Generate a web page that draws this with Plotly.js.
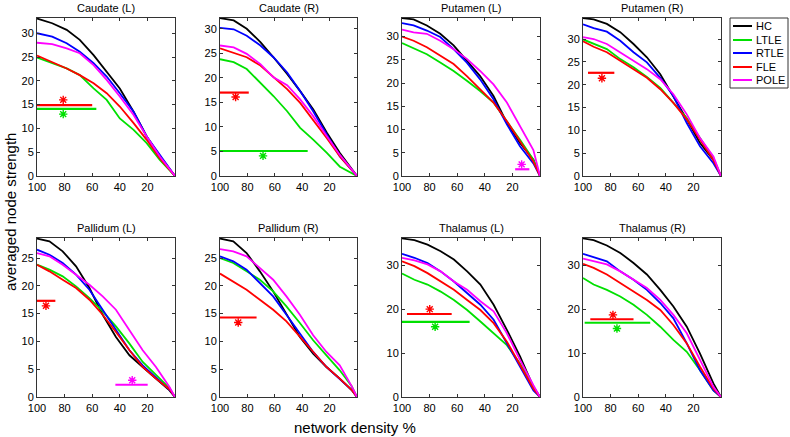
<!DOCTYPE html>
<html><head><meta charset="utf-8">
<script src="https://cdn.plot.ly/plotly-3.0.1.min.js"></script>
<style>html,body{margin:0;padding:0;background:#fff}#chart{width:790px;height:437px}</style>
</head><body><div id="chart"></div>
<script>
const panelTitles = ['Caudate (L)','Caudate (R)','Putamen (L)','Putamen (R)','Pallidum (L)','Pallidum (R)','Thalamus (L)','Thalamus (R)'];
const groups = ['HC','LTLE','RTLE','FLE','POLE'];
const groupColors = ['#000000','#00e000','#0000ff','#ff0000','#ff00ff'];
const yMax = [33.2,32.2,34.0,34.6,28.6,28.6,36.2,36.2];
const yStep = [5,5,5,5,5,5,10,10];
const xTicks = [100,80,60,40,20];

// network density (%) sample positions per panel
const densityX = [
  [100,89,78.5,69,59,49.5,40,30,20.5,11,0],
  [100,90,80.5,70.5,61,51,41.5,32,22,12.5,0],
  [100,91.6,82,72.3,62.6,53,43.4,33.7,24,14.5,4.8,0],
  [100,92.3,82.7,73,63.4,53.7,44,34.5,24.8,15.2,5.5,0],
  [100,91,81.4,71.7,62,52.4,42.8,33,23.4,13.8,4,0],
  [100,90.3,80.6,70.9,61.2,51.5,41.7,32,22.3,12.6,4,0],
  [100,91,81.5,72,62.4,52.8,43.2,33.6,24,14.4,4.8,0],
  [100,92.3,82.7,73,63.4,53.7,44,34.5,24.8,15.2,5.5,0]
];
const HC = [
  [33.1,32.1,30.7,28.6,25.4,21.9,18.4,13.5,8.3,4.1,0],
  [32.2,31.7,30.0,27.3,24.2,20.8,17.3,13.6,8.8,4.7,0],
  [34.0,33.7,32.4,30.6,28.1,24.8,21.5,17.2,11.4,7.1,3.5,0],
  [34.6,34.3,33.3,31.5,28.9,26.0,22.3,17.5,12.4,7.2,3.5,0],
  [28.5,28.0,26.2,23.5,19.6,14.8,10.8,7.5,5.4,3.3,1.2,0],
  [28.5,28.0,25.9,22.6,19.0,14.8,10.8,7.8,5.4,3.3,1.3,0],
  [36.1,35.7,34.7,33.2,31.3,28.6,25.6,21.0,15.3,9.2,2.3,0],
  [36.1,35.7,34.5,32.8,30.5,27.9,24.4,20.6,16.0,9.9,3.1,0]
];
const LTLE = [
  [24.9,23.7,22.6,21.2,18.4,16.0,12.1,9.7,6.9,3.4,0],
  [23.8,23.2,21.8,19.0,16.3,13.2,9.8,7.4,4.7,1.9,0],
  [28.6,27.5,26.2,24.4,22.6,20.5,18.3,15.8,11.8,7.8,3.5,0],
  [29.9,28.9,27.8,25.6,23.8,21.7,19.3,16.0,12.7,8.3,3.9,0],
  [23.8,22.9,21.7,19.9,17.8,15.4,12.7,9.6,6.3,3.9,1.6,0],
  [25.0,24.1,22.6,21.1,19.0,16.3,13.3,10.2,7.5,4.8,2.0,0],
  [28.1,26.7,25.6,24.0,22.1,19.8,17.2,14.5,11.8,7.6,2.3,0],
  [27.1,25.6,24.4,22.9,21.0,18.7,16.0,13.0,10.3,6.1,1.5,0]
];
const RTLE = [
  [30.0,29.3,27.9,26.1,23.7,20.9,17.4,13.5,8.3,4.5,0],
  [30.2,29.9,28.6,26.6,24.2,21.1,17.3,13.2,8.4,4.0,0],
  [32.9,32.4,31.3,29.9,27.3,24.4,20.8,16.5,11.1,6.4,2.7,0],
  [33.2,32.4,31.6,29.6,27.1,24.9,21.5,17.5,11.6,6.5,2.8,0],
  [26.5,25.6,24.1,22.0,19.3,15.7,12.0,8.4,5.7,3.6,1.3,0],
  [25.3,24.4,22.9,20.5,18.1,14.8,11.4,8.1,5.4,3.3,1.3,0],
  [32.6,31.7,30.5,28.6,26.3,23.7,21.0,17.6,12.2,6.9,1.5,0],
  [32.6,31.9,30.9,28.6,26.7,24.4,21.4,17.9,12.2,6.1,1.5,0]
];
const FLE = [
  [25.3,24.0,22.6,21.2,19.5,17.4,14.6,11.1,7.6,3.7,0],
  [26.0,25.1,24.2,22.5,20.1,17.7,14.9,11.5,7.7,4.0,0],
  [30.0,29.1,27.7,25.9,24.1,21.5,18.7,15.8,11.8,7.4,3.1,0],
  [29.5,28.3,27.1,25.2,23.4,21.5,19.0,16.0,12.4,7.9,3.5,0],
  [23.8,22.6,21.1,19.6,17.5,14.8,11.7,8.4,5.4,3.3,1.4,0],
  [22.2,20.8,19.3,17.5,15.7,13.6,10.8,8.1,5.4,3.3,1.3,0],
  [30.9,29.8,28.2,26.3,24.4,22.1,19.8,16.8,12.6,7.3,1.9,0],
  [30.3,29.4,27.9,26.0,24.0,22.1,19.8,16.4,12.2,6.9,1.9,0]
];
const POLE = [
  [28.0,27.7,26.8,25.8,23.3,20.2,16.7,12.8,8.3,4.1,0],
  [26.6,26.2,24.9,22.8,20.1,18.5,15.6,12.2,8.1,4.3,0],
  [31.5,30.9,30.6,29.1,27.3,25.2,22.6,19.7,15.8,10.7,5.6,0],
  [30.4,30.0,28.9,27.1,25.2,23.4,21.2,17.9,13.5,8.3,4.3,0],
  [25.9,25.3,23.8,22.0,20.2,18.1,15.7,12.0,8.4,5.4,1.8,0],
  [26.6,26.2,25.3,23.2,21.1,18.1,14.8,11.1,8.1,5.7,2.0,0],
  [31.7,31.1,30.2,28.6,26.3,24.4,21.8,19.5,14.5,8.4,2.7,0],
  [31.5,30.9,30.2,28.6,26.7,24.8,22.1,18.7,14.5,8.4,2.3,0]
];

// significance bars (panel index, group index, density range, level) and asterisks
const sigPanel = [0,0,1,1,2,3,4,4,5,6,6,7,7];
const sigGroup = [3,1,3,1,4,3,3,4,3,3,1,3,1];
const sigX0 = [100,100,100,100,18,96.4,100,43.2,100,96.4,100,94.7,98.8];
const sigX1 = [60,57,79,36,7.7,77.3,86.7,19.8,73.3,64,51,63.4,51.3];
const sigY  = [14.9,14.1,17.0,5.1,1.45,22.6,17.3,2.2,14.3,18.9,17.1,17.7,16.9];
const starX = [81,81,88.6,68.6,13.3,86.3,93.5,31,86.7,79.9,76,78.3,75.4];
const starY = [16.0,13.0,16.1,4.1,2.5,21.4,16.4,3.0,13.4,20.0,16.0,18.7,15.6];

const series = [HC, LTLE, RTLE, FLE, POLE];
const W = 790, H = 437;
const colPx = [[37,175],[220,357],[402,540],[583,721]];
const rowPx = [[18,176],[238,397]];
const font = 'Liberation Sans, Arial, sans-serif';

const data = [];
const layout = {
  width: W, height: H, margin: {l:0,r:0,t:0,b:0},
  paper_bgcolor: '#fff', plot_bgcolor: '#fff', showlegend: false,
  font: {family: font, size: 11, color: '#000'},
  annotations: [], shapes: []
};

for (let p = 0; p < 8; p++) {
  const c = p % 4, r = Math.floor(p / 4);
  const sfx = p === 0 ? '' : String(p + 1);
  const xa = 'x' + sfx, ya = 'y' + sfx;
  const xd = [colPx[c][0] / W, colPx[c][1] / W];
  const yd = [1 - rowPx[r][1] / H, 1 - rowPx[r][0] / H];
  const axCommon = {showline: true, linecolor: '#333', linewidth: 1, mirror: 'ticks',
    ticks: 'inside', ticklen: 3, tickcolor: '#333', showgrid: false, zeroline: false,
    tickfont: {family: font, size: 11, color: '#000'}};
  layout['xaxis' + sfx] = Object.assign({}, axCommon, {domain: xd, anchor: ya,
    range: [100, 0], tickvals: xTicks, ticktext: xTicks.map(String), ticklabelstandoff: 1});
  layout['yaxis' + sfx] = Object.assign({}, axCommon, {domain: yd, anchor: xa,
    range: [0, yMax[p]], tick0: 0, dtick: yStep[p]});
  series.forEach((s, g) => {
    data.push({type: 'scatter', mode: 'lines', x: densityX[p], y: s[p],
      xaxis: xa, yaxis: ya, name: groups[g], line: {color: groupColors[g], width: 1.8},
      hoverinfo: 'skip'});
  });
  layout.annotations.push({text: panelTitles[p], xref: 'paper', yref: 'paper',
    x: (xd[0] + xd[1]) / 2, y: yd[1], xanchor: 'center', yanchor: 'bottom', yshift: 2,
    showarrow: false, font: {family: font, size: 11, color: '#000', weight: 'normal'}});
}

for (let i = 0; i < sigPanel.length; i++) {
  const p = sigPanel[i];
  const sfx = p === 0 ? '' : String(p + 1);
  const col = groupColors[sigGroup[i]];
  data.push({type: 'scatter', mode: 'lines', x: [sigX0[i], sigX1[i]], y: [sigY[i], sigY[i]],
    xaxis: 'x' + sfx, yaxis: 'y' + sfx, line: {color: col, width: 2.2}, hoverinfo: 'skip'});
  data.push({type: 'scatter', mode: 'markers', x: [starX[i]], y: [starY[i]],
    xaxis: 'x' + sfx, yaxis: 'y' + sfx, hoverinfo: 'skip',
    marker: {symbol: 'asterisk-open', size: 7, color: col, line: {color: col, width: 1.4}}});
}

// legend box (drawn manually to match the compact original)
const lg = {x0: 730, x1: 788, y0: 18, y1: 88, rows: [26, 40, 53, 67, 80]};
layout.shapes.push({type: 'rect', xref: 'paper', yref: 'paper',
  x0: lg.x0 / W, x1: lg.x1 / W, y0: 1 - lg.y1 / H, y1: 1 - lg.y0 / H,
  line: {color: '#333', width: 1}, fillcolor: '#fff'});
groups.forEach((g, i) => {
  const yy = 1 - lg.rows[i] / H;
  layout.shapes.push({type: 'line', xref: 'paper', yref: 'paper',
    x0: 733 / W, x1: 752 / W, y0: yy, y1: yy, line: {color: groupColors[i], width: 2}});
  layout.annotations.push({text: g, xref: 'paper', yref: 'paper', x: 754 / W, y: yy,
    xanchor: 'left', yanchor: 'middle', showarrow: false,
    font: {family: font, size: 11, color: '#000'}});
});

layout.annotations.push({text: 'averaged node strength', xref: 'paper', yref: 'paper',
  x: 10 / W, y: 1 - 212 / H, textangle: -90, xanchor: 'center', yanchor: 'middle',
  showarrow: false, font: {family: font, size: 15, color: '#000'}});
layout.annotations.push({text: 'network density %', xref: 'paper', yref: 'paper',
  x: 355 / W, y: 1 - 427 / H, xanchor: 'center', yanchor: 'middle',
  showarrow: false, font: {family: font, size: 15, color: '#000'}});

Plotly.newPlot('chart', data, layout, {staticPlot: true, displayModeBar: false});
</script></body></html>
